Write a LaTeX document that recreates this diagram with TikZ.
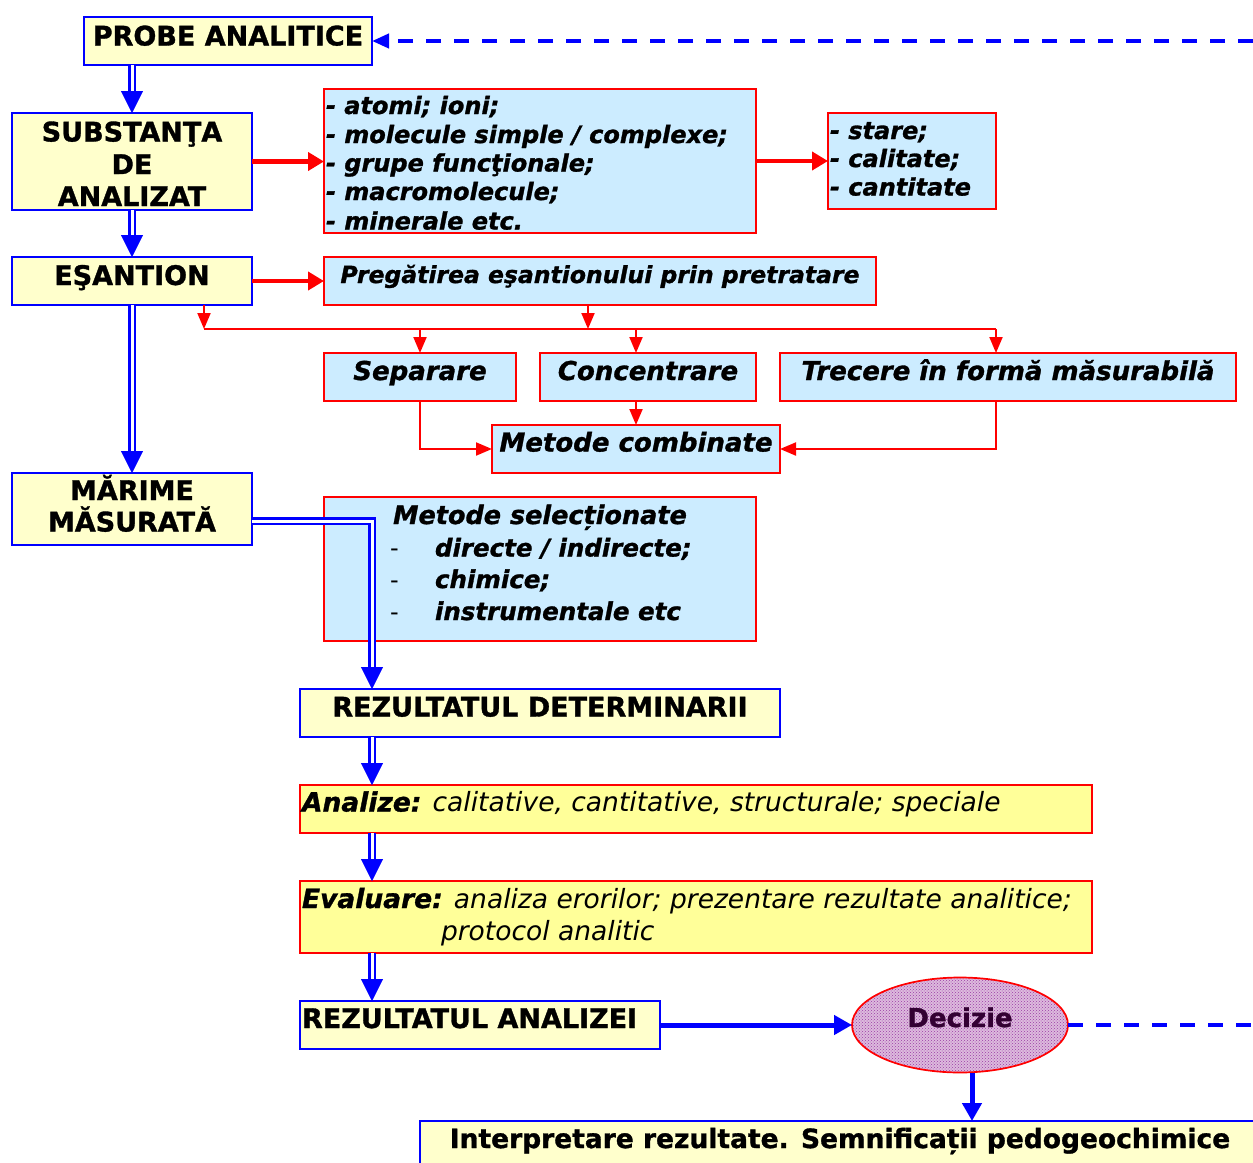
\documentclass[tikz,border=0pt]{standalone}
\usepackage{fontspec}
\setmainfont{DejaVu Sans}[
  BoldFeatures={FakeBold=1.2},
  BoldItalicFeatures={FakeBold=1.2}]
\usetikzlibrary{arrows.meta,shapes.geometric,patterns}

\definecolor{lyel}{HTML}{FFFFCC}
\definecolor{syel}{HTML}{FFFF99}
\definecolor{lblue}{HTML}{CCECFF}
\definecolor{pblue}{HTML}{0000FF}
\definecolor{pred}{HTML}{FF0000}
\definecolor{dpurp}{HTML}{330033}
\definecolor{lpurp}{HTML}{DDBADD}
\definecolor{mpurp}{HTML}{9A3CA6}

\newcommand{\setfs}[1]{\fontsize{#1}{#1}\selectfont}

\begin{document}
\begin{tikzpicture}[x=1pt,y=-1pt,
  box/.style={rectangle, anchor=north west, inner sep=0pt, outer sep=0pt, line width=1.7pt},
  ybox/.style={box, draw=pblue, fill=lyel},
  bbox/.style={box, draw=pred, fill=lblue},
  sbox/.style={box, draw=pred, fill=syel},
  txt/.style={inner sep=0pt, outer sep=0pt},
  tb/.style={txt, font=\bfseries\setfs{#1}},
  tbi/.style={txt, font=\bfseries\itshape\setfs{#1}},
  ti/.style={txt, font=\itshape\setfs{#1}},
  dbl/.style={draw=pblue, double=white, line width=2.3pt, double distance=3pt},
  dtip/.style={draw=pblue, fill=pblue, line width=0.4pt, -{Triangle[length=22pt,width=22pt]}},
  rthick/.style={draw=pred, line width=4.2pt, -{Triangle[length=16pt,width=18pt]}},
  rthin/.style={draw=pred, line width=2pt},
  rtip/.style={-{Triangle[length=16pt,width=13pt]}},
  bthick/.style={draw=pblue, line width=5pt, -{Triangle[length=18pt,width=19pt]}},
  bdash/.style={draw=pblue, line width=4pt, dash pattern=on 15pt off 13pt}
]
\useasboundingbox (0,0) rectangle (1253,1162);

% ---- boxes ----
\node[ybox, minimum width=288pt, minimum height=48pt] (probe) at (84,17) {};
\node[ybox, minimum width=240pt, minimum height=97pt] (subst) at (12,113) {};
\node[bbox, minimum width=432pt, minimum height=144pt] (items) at (324,89) {};
\node[bbox, minimum width=168pt, minimum height=96pt] (stare) at (828,113) {};
\node[ybox, minimum width=240pt, minimum height=48pt] (esant) at (12,257) {};
\node[bbox, minimum width=552pt, minimum height=48pt] (preg) at (324,257) {};
\node[bbox, minimum width=192pt, minimum height=48pt] (sep) at (324,353) {};
\node[bbox, minimum width=216pt, minimum height=48pt] (conc) at (540,353) {};
\node[bbox, minimum width=456pt, minimum height=48pt] (trec) at (780,353) {};
\node[bbox, minimum width=288pt, minimum height=48pt] (metcomb) at (492,425) {};
\node[ybox, minimum width=240pt, minimum height=72pt] (marime) at (12,473) {};
\node[bbox, minimum width=432pt, minimum height=144pt] (metsel) at (324,497) {};
\node[ybox, minimum width=480pt, minimum height=48pt] (rezdet) at (300,689) {};
\node[sbox, minimum width=792pt, minimum height=48pt] (analize) at (300,785) {};
\node[sbox, minimum width=792pt, minimum height=72pt] (evaluare) at (300,881) {};
\node[ybox, minimum width=360pt, minimum height=48pt] (rezan) at (300,1001) {};
\node[ybox, minimum width=850pt, minimum height=60pt] (interp) at (420,1121) {};
\node[ellipse, draw=pred, line width=1.7pt, inner sep=0pt, outer sep=0pt,
      minimum width=216pt, minimum height=95pt,
      preaction={fill=lpurp}, pattern=crosshatch dots, pattern color=mpurp] (dec) at (960,1025) {};

% ---- texts ----
\node[tb=27, anchor=base] (tprobe) at (228,45.5) {PROBE ANALITICE};
\node[tb=27, anchor=base] (ts1) at (132,141.5) {SUBSTANŢA};
\node[tb=27, anchor=base] (ts2) at (132,174) {DE};
\node[tb=27, anchor=base] (ts3) at (132,206) {ANALIZAT};
\node[tb=27, anchor=base] (tesant) at (132,285) {EŞANTION};
\node[tb=27, anchor=base] (tm1) at (132,500) {MĂRIME};
\node[tb=27, anchor=base] (tm2) at (132,531.5) {MĂSURATĂ};
\node[tb=27, anchor=base] (trezdet) at (540,716.5) {REZULTATUL DETERMINARII};
\node[tb=27, anchor=base west] (trezan) at (302,1028) {REZULTATUL ANALIZEI};
\node[tb=26, anchor=base, text=dpurp] (tdec) at (960,1027) {Decizie};
\node[tb=26.5, anchor=base] (tinterp) at (840,1148) {Interpretare rezultate. Semnificații pedogeochimice};

\node[tbi=24, anchor=base west] (ti1) at (326,114) {- atomi; ioni;};
\node[tbi=24, anchor=base west] (ti2) at (326,143) {- molecule simple / complexe;};
\node[tbi=24, anchor=base west] (ti3) at (326,171.5) {- grupe funcţionale;};
\node[tbi=24, anchor=base west] (ti4) at (326,200) {- macromolecule;};
\node[tbi=24, anchor=base west] (ti5) at (326,229.5) {- minerale etc.};

\node[tbi=24, anchor=base west] (tst1) at (830,139) {- stare;};
\node[tbi=24, anchor=base west] (tst2) at (830,167) {- calitate;};
\node[tbi=24, anchor=base west] (tst3) at (830,195.5) {- cantitate};

\node[tbi=23.5, anchor=base] (tpreg) at (600,283) {Pregătirea eşantionului prin pretratare};
\node[tbi=26, anchor=base] (tsep) at (420,380) {Separare};
\node[tbi=26, anchor=base] (tconc) at (648,380) {Concentrare};
\node[tbi=26, anchor=base] (ttrec) at (1008,380) {Trecere în formă măsurabilă};
\node[tbi=26, anchor=base] (tmc) at (636,451.5) {Metode combinate};

\node[tbi=25.5, anchor=base] (tms) at (540,524) {Metode selecționate};
\node[txt, font=\setfs{24}, anchor=base west] (td1) at (390,556.5) {-};
\node[txt, font=\setfs{24}, anchor=base west] (td2) at (390,588) {-};
\node[txt, font=\setfs{24}, anchor=base west] (td3) at (390,620) {-};
\node[tbi=24.5, anchor=base west] (tms1) at (435,556.5) {directe / indirecte;};
\node[tbi=24.5, anchor=base west] (tms2) at (435,588) {chimice;};
\node[tbi=24.5, anchor=base west] (tms3) at (435,620) {instrumentale etc};

\node[ti=26.5, anchor=base west] (tan) at (302,811.5) {\bfseries Analize:\mdseries{} calitative, cantitative, structurale; speciale};
\node[ti=26.5, anchor=base west] (tev1) at (302,908) {\bfseries Evaluare:\mdseries{} analiza erorilor; prezentare rezultate analitice;};
\node[ti=26.5, anchor=base west] (tev2) at (441,940) {protocol analitic};

% ---- blue double arrows ----
\coordinate (p0) at (probe.south -| subst.north);
\draw[dbl] (p0) -- ([yshift=21pt]subst.north);
\draw[dtip] ([yshift=22pt]subst.north) -- (subst.north);
\draw[dbl] (subst.south) -- ([yshift=21pt]esant.north);
\draw[dtip] ([yshift=22pt]esant.north) -- (esant.north);
\draw[dbl] (esant.south) -- ([yshift=21pt]marime.north);
\draw[dtip] ([yshift=22pt]marime.north) -- (marime.north);

\coordinate (m1) at ([yshift=-12pt]marime.east);
\coordinate (c1) at ([xshift=72pt]rezdet.north west);
\coordinate (c2) at ([xshift=72pt]rezdet.south west);
\coordinate (c3) at ([xshift=72pt]analize.north west);
\coordinate (c4) at ([xshift=72pt]analize.south west);
\coordinate (c5) at ([xshift=72pt]evaluare.north west);
\coordinate (c6) at ([xshift=72pt]evaluare.south west);
\coordinate (c7) at ([xshift=72pt]rezan.north west);

\draw[dbl] (m1) -| ([yshift=21pt]c1);
\draw[dtip] ([yshift=22pt]c1) -- (c1);
\draw[dbl] (c2) -- ([yshift=21pt]c3);
\draw[dtip] ([yshift=22pt]c3) -- (c3);
\draw[dbl] (c4) -- ([yshift=21pt]c5);
\draw[dtip] ([yshift=22pt]c5) -- (c5);
\draw[dbl] (c6) -- ([yshift=21pt]c7);
\draw[dtip] ([yshift=22pt]c7) -- (c7);

% ---- red arrows ----
\draw[rthick] (subst.east) -- (subst.east -| items.west);
\draw[rthick] (items.east) -- (items.east -| stare.west);
\draw[rthick] (esant.east) -- (esant.east -| preg.west);

\coordinate (busL) at (204,329);
\coordinate (busR) at (996,329);
\coordinate (pg) at ([xshift=-12pt]preg.south);
\draw[rthin] (busL) -- (busR);
\draw[rthin, rtip] (esant.south -| busL) -- (busL);
\draw[rthin, rtip] (pg) -- (pg |- busL);
\draw[rthin, rtip] (sep.north |- busL) -- (sep.north);
\draw[rthin, rtip] (metcomb.north |- busL) -- (metcomb.north |- conc.north);
\draw[rthin, rtip] (busR) -- (busR |- trec.north);
\draw[rthin, rtip] (sep.south) |- (metcomb.west);
\draw[rthin, rtip] (metcomb.north |- conc.south) -- (metcomb.north);
\draw[rthin, rtip] (busR |- trec.south) |- (metcomb.east);

% ---- decision links ----
\draw[bthick] (rezan.east) -- (dec.west);
\coordinate (d1) at ([xshift=12pt]dec.south);
\draw[bthick] (d1) -- (d1 |- interp.north);

\coordinate (eR1) at (1253,41);
\coordinate (eR2) at (1253,1025);
\draw[bdash, -{Triangle[length=17pt,width=14pt]}] (eR1) -- (probe.east);
\draw[bdash] (dec.east) -- (eR2);
\end{tikzpicture}
\end{document}
